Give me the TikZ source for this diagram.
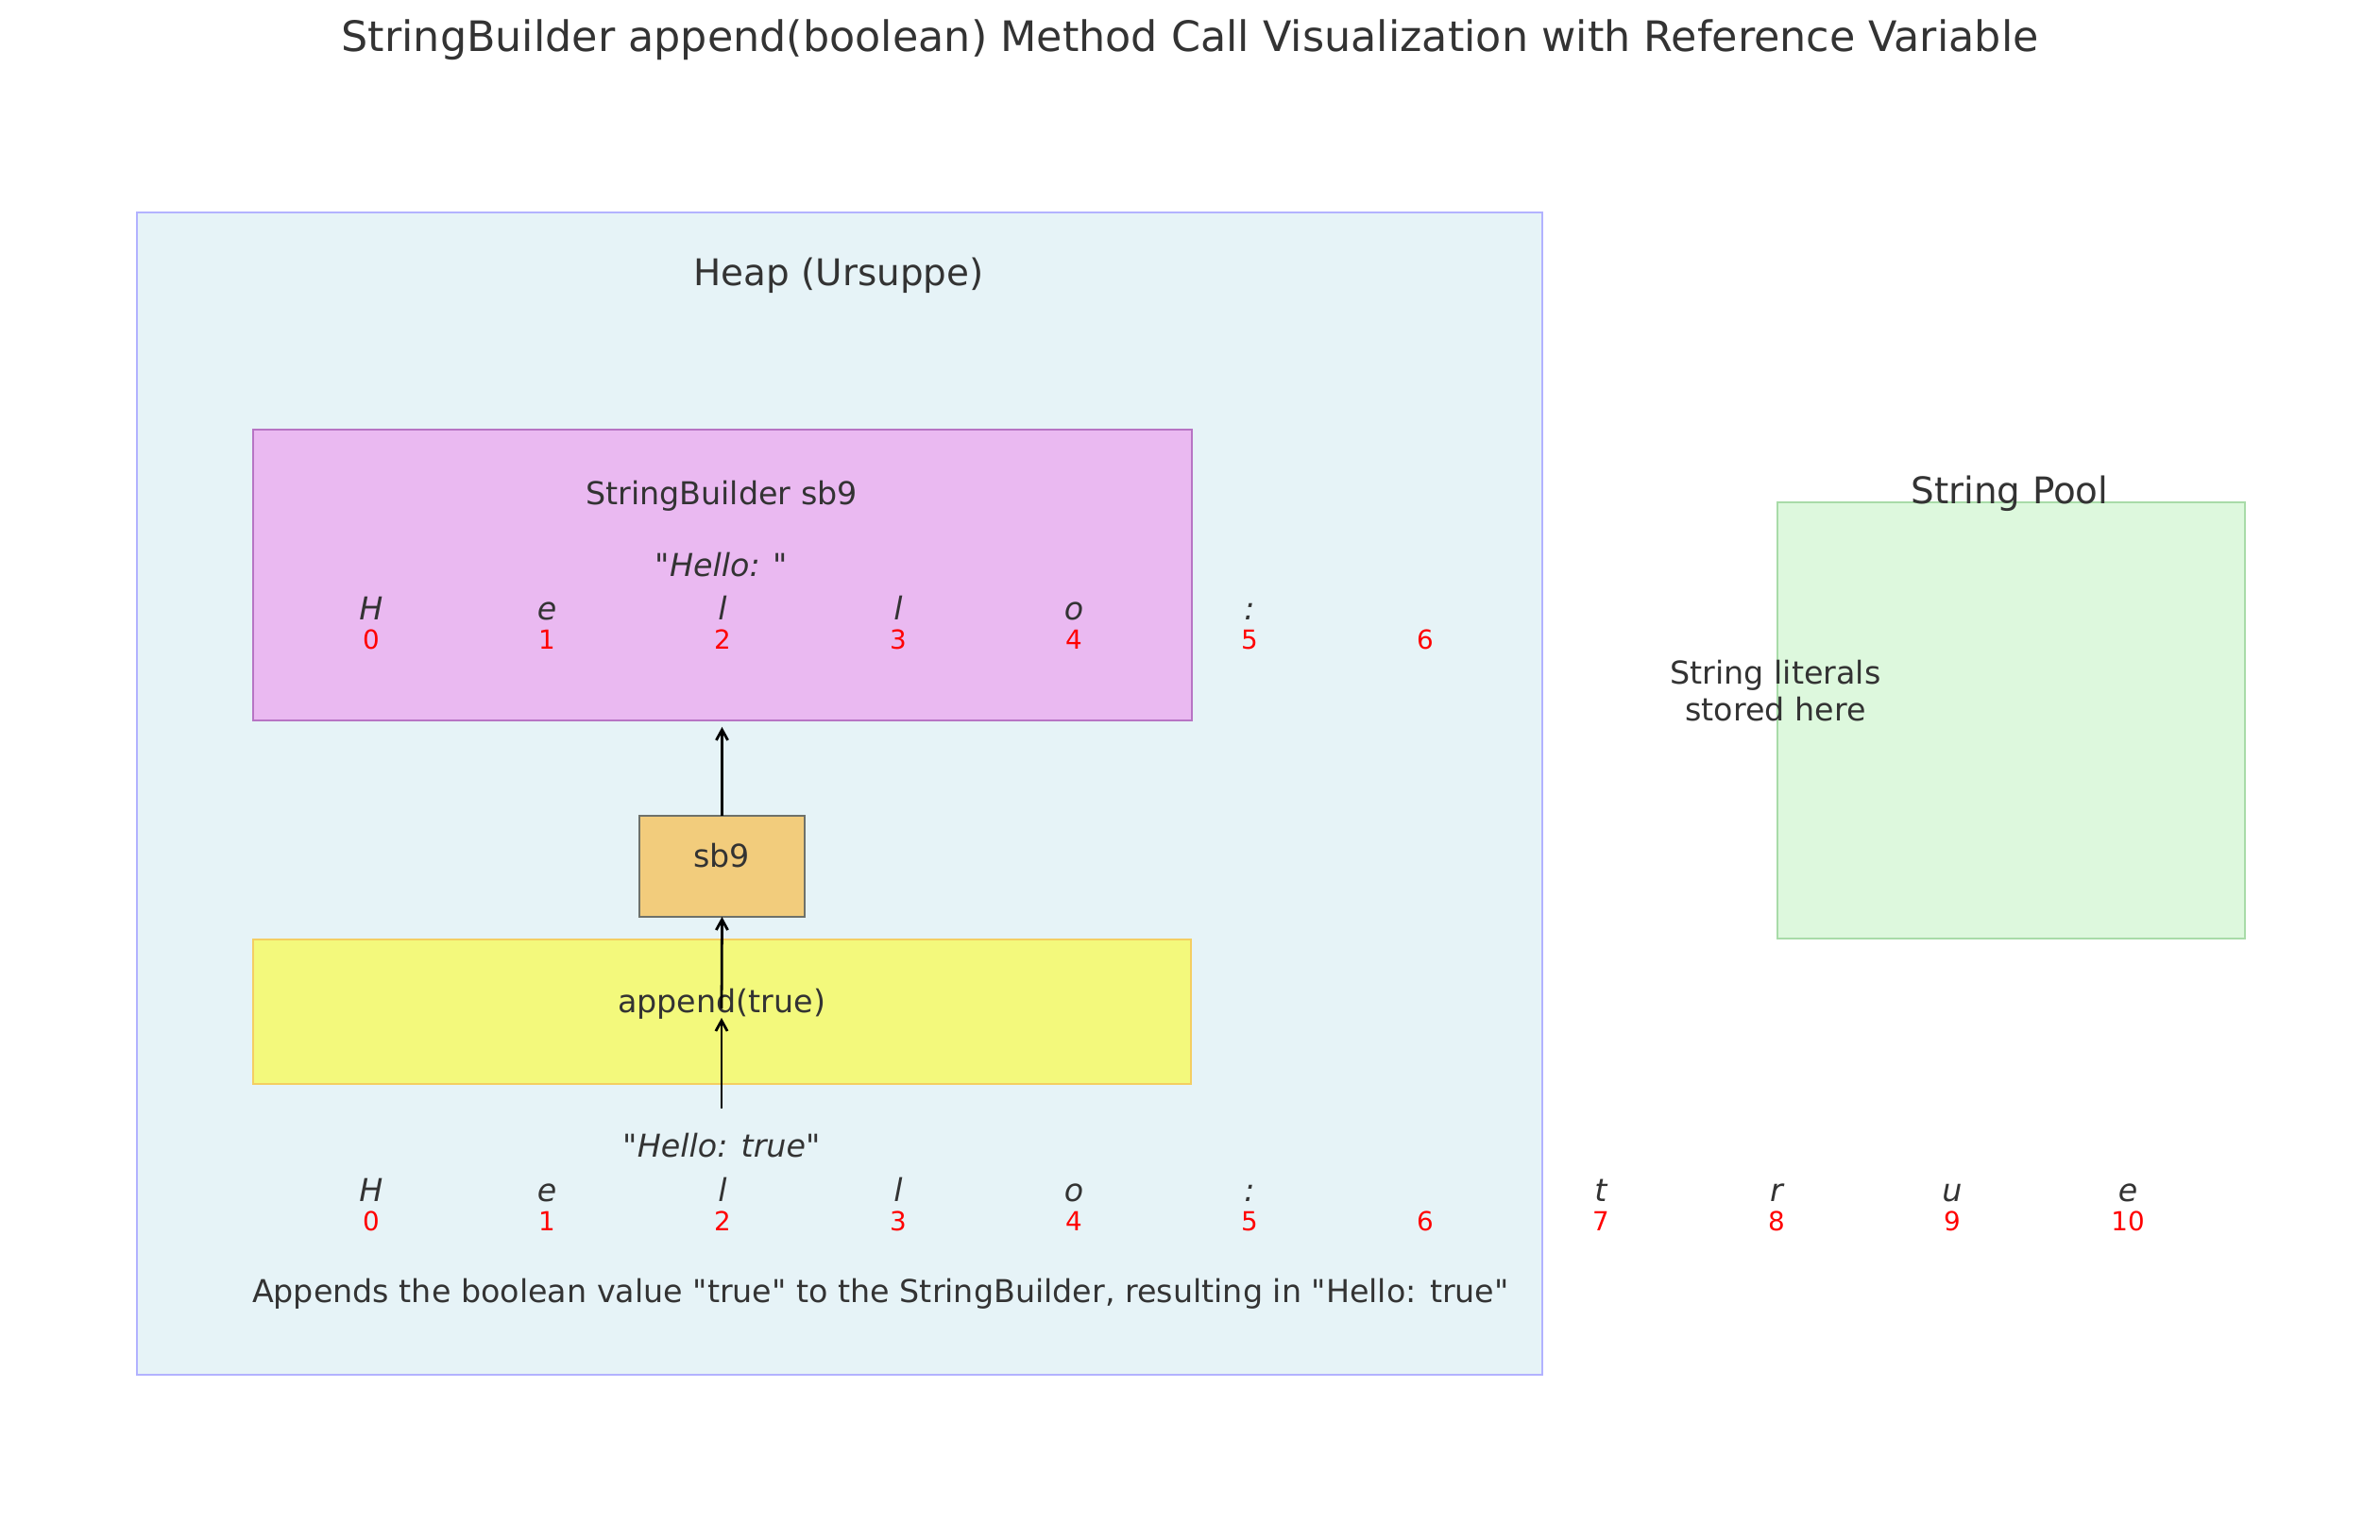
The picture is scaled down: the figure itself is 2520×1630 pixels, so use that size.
\documentclass[tikz,border=0pt]{standalone}
\usepackage{fontspec}
\setmainfont{DejaVu Sans}[Ligatures=TeXOff]
\usetikzlibrary{arrows.meta,fit}
\definecolor{txt}{HTML}{333333}
\definecolor{heapf}{HTML}{E6F3F7}
\definecolor{heapb}{HTML}{B2B2FF}
\definecolor{sbf}{HTML}{EAB9F1}
\definecolor{sbb}{HTML}{B774C4}
\definecolor{apf}{HTML}{F3F97C}
\definecolor{apb}{HTML}{F4CE62}
\definecolor{reff}{HTML}{F2CC7C}
\definecolor{refb}{HTML}{6E716A}
\definecolor{poolf}{HTML}{DDF8DD}
\definecolor{poolb}{HTML}{A8DBA8}
\definecolor{idxred}{HTML}{FF0000}
\newcommand\fs[1]{\fontsize{#1}{#1}\selectfont}
\begin{document}
\begin{tikzpicture}[x=0.36pt,y=-0.36pt,
  every node/.style={inner sep=0pt, outer sep=0pt, text=txt},
  panel/.style={line width=0.9pt},
  lbl/.style={anchor=base, font=\fs{12}},
  chr/.style={anchor=base, font=\fs{12}\itshape},
  idx/.style={anchor=base, font=\fs{10}, text=idxred},
  arr/.style={-{Straight Barb[length=4pt,width=4.4pt]}, line width=1pt, black}]
\useasboundingbox (0,0) rectangle (2520,1630);
\fill[white] (0,0) rectangle (2520,1630);

% title
\node[anchor=base, font=\fs{16}] (title) at (1260,54) {StringBuilder append(boolean) Method Call Visualization with Reference Variable};

% heap
\node[panel, fit={(145,225) (1633,1456)}, draw=heapb, fill=heapf] (heap) {};
\node[anchor=base, font=\fs{14}] (heaplbl) at (888,302) {Heap (Ursuppe)};

% string pool
\node[panel, fit={(1882,532) (2377,994)}, draw=poolb, fill=poolf] (pool) {};
\node[anchor=base, font=\fs{14}] (poollbl) at (2128,533) {String Pool};
\node[lbl] (lit1) at (1880,724) {String literals};
\node[lbl] (lit2) at (1880,763) {stored here};

% StringBuilder object
\node[panel, fit={(268,455) (1262,763)}, draw=sbb, fill=sbf] (sbm) {};
\node[lbl] (sblbl) at (764,534) {StringBuilder sb9};
\node[lbl] (sbval) at (764,610) {"\textit{Hello: }"};
\foreach \c/\i in {H/0,e/1,l/2,l/3,o/4,:/5}
  \node[chr] (ca\i) at ({393+186*\i},656) {\c};
\foreach \i in {0,...,6}
  \node[idx] (ia\i) at ({393+186*\i},687) {\i};

% reference variable
\node[panel, fit={(677,864) (852,971)}, draw=refb, fill=reff] (sb9) {};
\node[lbl] (sb9lbl) at (764,918) {sb9};

% append call
\node[panel, fit={(268,995) (1261,1148)}, draw=apb, fill=apf] (app) {};
\node[lbl] (applbl) at (764,1072) {append(true)};

% result
\node[lbl] (resval) at (764,1225) {"\textit{Hello: true}"};
\foreach \c/\i in {H/0,e/1,l/2,l/3,o/4,:/5,t/7,r/8,u/9,e/10}
  \node[chr] (cb\i) at ({393+186*\i},1272) {\c};
\foreach \i in {0,...,10}
  \node[idx] (ib\i) at ({393+186*\i},1303) {\i};

\node[anchor=base west, font=\fs{12}] (desc) at (267,1379) {Appends the boolean value "true" to the StringBuilder, resulting in "Hello: true"};

% connectors
\coordinate (appfrom) at (764,1068);
\coordinate (appto) at (764,1078);
\coordinate (resfrom) at (764,1174);
\draw[arr, shorten >=2.5pt] (sb9.north) -- (sb9.north |- sbm.south);
\draw[arr] (appfrom) -- (sb9.south);
\draw[arr] (resfrom) -- (appto);
\end{tikzpicture}
\end{document}
